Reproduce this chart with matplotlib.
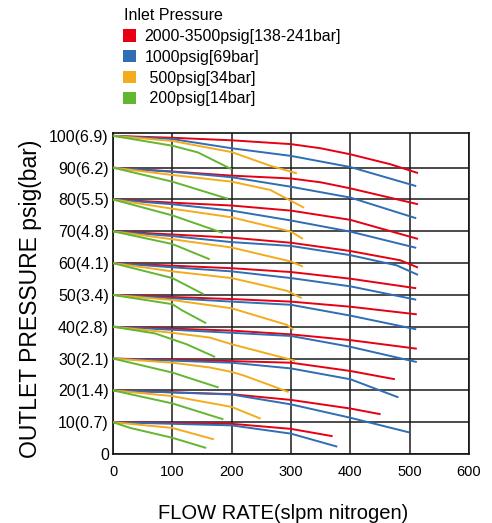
import matplotlib
matplotlib.use("Agg")
import matplotlib.pyplot as plt
from matplotlib.patches import Patch

plt.rcParams["font.family"] = ["Liberation Sans", "DejaVu Sans"]

# outlet pressure settings (psig) and their bar labels
y_ticks = [0, 10, 20, 30, 40, 50, 60, 70, 80, 90, 100]
y_labels = ["0", "10(0.7)", "20(1.4)", "30(2.1)", "40(2.8)", "50(3.4)",
            "60(4.1)", "70(4.8)", "80(5.5)", "90(6.2)", "100(6.9)"]
x_ticks = [0, 100, 200, 300, 400, 500, 600]

series_names = ["2000-3500psig[138-241bar]", "1000psig[69bar]",
                " 500psig[34bar]", " 200psig[14bar]"]
series_colors = ["#e60012", "#2f6db5", "#f2ac1e", "#63b630"]

# one curve per outlet setting, listed from 100 psig down to 10 psig
red_flow = [
    [0, 100, 200, 300, 350, 400, 467, 514],
    [0, 100, 200, 300, 350, 400, 514],
    [0, 100, 200, 300, 400, 514],
    [0, 100, 200, 300, 400, 484, 514],
    [0, 200, 300, 400, 511],
    [0, 200, 300, 400, 512],
    [0, 200, 300, 400, 512],
    [0, 200, 300, 400, 475],
    [0, 200, 300, 400, 451],
    [0, 200, 300, 370],
]
red_pres = [
    [100, 99.4, 98.6, 97.4, 96.1, 94.2, 91.1, 88.3],
    [90, 88.8, 87.5, 86.6, 85.4, 83.5, 78.5],
    [80, 79.0, 78.1, 76.5, 73.6, 67.6],
    [70, 69.0, 68.0, 66.4, 63.8, 60.9, 58.6],
    [60, 58.4, 57.2, 55.1, 52.1],
    [50, 48.7, 47.9, 46.3, 43.9],
    [40, 38.8, 37.6, 35.8, 33.1],
    [30, 29.2, 28.7, 26.1, 23.5],
    [20, 18.8, 17.0, 14.3, 12.5],
    [10, 9.5, 7.9, 5.6],
]

blue_flow = [
    [0, 100, 200, 300, 400, 511],
    [0, 100, 200, 300, 400, 511],
    [0, 100, 200, 300, 400, 511],
    [0, 100, 200, 300, 400, 478, 514],
    [0, 200, 300, 400, 511],
    [0, 200, 300, 400, 511],
    [0, 200, 300, 400, 512],
    [0, 200, 300, 400, 481],
    [0, 200, 300, 400, 499],
    [0, 200, 300, 378],
]
blue_pres = [
    [100, 99.0, 96.1, 93.7, 90.2, 84.2],
    [90, 88.7, 87.0, 84.0, 80.6, 74.1],
    [80, 78.5, 76.5, 73.4, 69.9, 64.8],
    [70, 68.5, 66.6, 65.4, 62.5, 59.3, 56.3],
    [60, 57.4, 55.3, 52.7, 48.5],
    [50, 47.9, 46.9, 43.5, 39.2],
    [40, 38.1, 37.1, 33.7, 28.9],
    [30, 28.7, 26.9, 23.5, 17.8],
    [20, 18.7, 15.6, 11.4, 6.8],
    [10, 9.0, 6.4, 2.3],
]

orange_flow = [
    [0, 100, 200, 265, 310],
    [0, 100, 200, 265, 322],
    [0, 100, 200, 300, 320],
    [0, 100, 200, 300, 320],
    [0, 100, 200, 293, 318],
    [0, 100, 200, 293, 304],
    [0, 100, 163, 200, 307],
    [0, 100, 163, 200, 220, 296],
    [0, 100, 200, 249],
    [0, 100, 170],
]
orange_pres = [
    [100, 98.4, 94.9, 90.6, 88.2],
    [90, 87.7, 85.6, 83.0, 77.4],
    [80, 77.1, 74.4, 69.9, 67.6],
    [70, 67.5, 64.9, 60.5, 58.9],
    [60, 57.4, 55.3, 51.3, 49.0],
    [50, 48.4, 45.8, 40.6, 39.0],
    [40, 38.1, 36.6, 34.5, 29.3],
    [30, 28.7, 27.2, 25.8, 24.7, 19.5],
    [20, 18.2, 14.8, 11.1],
    [10, 8.2, 4.6],
]

green_flow = [
    [0, 100, 143, 200],
    [0, 100, 194],
    [0, 100, 185],
    [0, 100, 163],
    [0, 100, 153],
    [0, 100, 116, 157],
    [0, 71, 124, 172],
    [0, 100, 178],
    [0, 100, 186],
    [0, 29, 100, 157],
]
green_pres = [
    [100, 96.9, 94.8, 89.5],
    [90, 85.6, 80.2],
    [80, 75.0, 69.5],
    [70, 66.0, 61.2],
    [60, 55.3, 50.2],
    [50, 47.1, 45.2, 41.1],
    [40, 37.9, 34.5, 30.5],
    [30, 25.6, 20.9],
    [20, 15.9, 10.9],
    [10, 8.2, 5.1, 1.9],
]


def main():
    fig = plt.figure(figsize=(4.92, 5.23), dpi=100)
    ax = fig.add_axes([0.2297, 0.1319, 0.7236, 0.6132])

    all_flow = [red_flow, blue_flow, orange_flow, green_flow]
    all_pres = [red_pres, blue_pres, orange_pres, green_pres]
    for flows, pres, color in zip(all_flow, all_pres, series_colors):
        for f, p in zip(flows, pres):
            ax.plot(f, p, color=color, lw=1.4, solid_capstyle="butt", zorder=3)

    ax.set_xlim(0, 600)
    ax.set_ylim(0, 100.8)
    ax.set_xticks(x_ticks)
    ax.set_yticks(y_ticks)
    ax.set_yticklabels(y_labels)
    ax.tick_params(axis="y", length=0, pad=3, labelsize=11.5)
    ax.tick_params(axis="x", length=0, pad=8, labelsize=10.5)

    ax.grid(True, color="#1a1a1a", lw=1.1)
    ax.yaxis.get_gridlines()[-1].set_visible(False)
    ax.set_axisbelow(True)
    for s in ax.spines.values():
        s.set_linewidth(1.2)
        s.set_color("#111111")

    ax.set_xlabel("FLOW RATE(slpm nitrogen)", fontsize=14.5, labelpad=18,
                  x=0.479)
    ax.set_ylabel("OUTLET PRESSURE psig(bar)", fontsize=16.5, labelpad=5,
                  y=0.485)

    fig.text(124 / 492, 1 - 15 / 523, "Inlet Pressure", fontsize=11.5,
             ha="left", va="center")
    handles = [Patch(facecolor=c, edgecolor="none") for c in series_colors]
    fig.legend(handles, series_names,
               loc="upper left", bbox_to_anchor=(123 / 492, 1 - 29 / 523),
               frameon=False, fontsize=11.5,
               handlelength=0.8, handleheight=0.8,
               handletextpad=0.55, labelspacing=0.36, borderpad=0,
               borderaxespad=0)

    fig.savefig("out.png", dpi=100)
    plt.close(fig)


if __name__ == "__main__":
    main()
